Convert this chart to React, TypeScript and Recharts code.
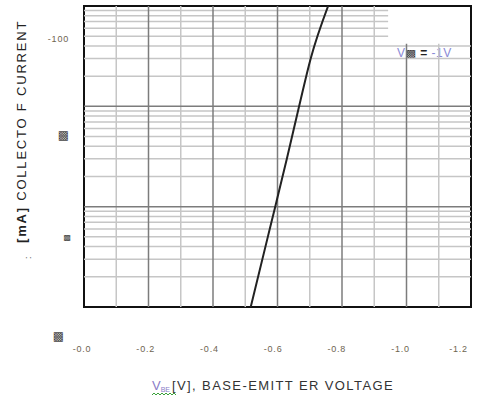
import { LineChart, Line, XAxis, YAxis, ReferenceLine, ReferenceArea, Customized } from "recharts"

// V_BE [V] vs I_C [mA]
const VBE = [-0.517, -0.57, -0.593, -0.629, -0.667, -0.703, -0.757]
const IC = [-0.1, -0.5, -1, -3, -10, -30, -100]

const X_TICKS = [0, -0.2, -0.4, -0.6, -0.8, -1.0, -1.2]
const X_TICK_LABELS = ["-0.0", "-0.2", "-0.4", "-0.6", "-0.8", "-1.0", "-1.2"]
const X_MINOR = [-0.1, -0.3, -0.5, -0.7, -0.9, -1.1]

const Y_TICKS = [0.1, 1, 10, 100]
const Y_TICK_LABELS = ["▩", "▩", "▩", "-100"]
const Y_MAJOR = [1, 10]
const Y_MINOR = [0.2, 0.3, 0.4, 0.5, 0.6, 0.7, 0.8, 0.9, 2, 3, 4, 5, 6, 7, 8, 9, 20, 30, 40, 50, 60, 70, 80, 90]

const data = VBE.map((v, i) => ({ vbe: v, ic: -IC[i] }))

const FONT = "'Liberation Sans', Arial, sans-serif"
const LIGHT = "#c6c6c6"
const DARK = "#7c7c7c"
// blank legend corner (top right)
const BOX_X = -0.943
const BOX_Y = 42

const XTick = (props: any) => {
  const i = X_TICKS.indexOf(props.payload.value)
  return (
    <text x={props.x - 2 - i * 0.8} y={352} textAnchor="middle" fontFamily={FONT} fontSize={9} letterSpacing={0.8} fill="#6e6450">
      {X_TICK_LABELS[i]}
    </text>
  )
}

const YTick = (props: any) => {
  const i = Y_TICKS.indexOf(props.payload.value)
  const size = i === 3 ? 9 : i === 1 ? 8 : 12
  return (
    <text x={props.x - (i === 0 ? 10 : i === 1 ? 3 : 5)} y={props.y + 33} textAnchor="end" fontFamily={i === 3 ? FONT : "'DejaVu Sans'"} fontSize={size} letterSpacing={i === 3 ? 0.8 : 0} fill={i === 3 ? "#6e6450" : "#444"}>
      {Y_TICK_LABELS[i]}
    </text>
  )
}

const Texts = () => (
  <g>
    <text transform="translate(26,243) rotate(-90)" fontFamily={FONT} fontSize={13} fill="#222" letterSpacing={1.8}>
      <tspan fontWeight="bold">[mA]</tspan>  COLLECTO  F CURRENT
    </text>
    <text transform="translate(31,259) rotate(-90)" fontFamily={FONT} fontSize={9} fill="#555">:</text>
    <text x={152} y={390} fontFamily={FONT} fontSize={13} fill="#8a7cc8">
      V<tspan fontSize={7} dy={2}>BE</tspan>
    </text>
    <text x={172} y={390} fontFamily={FONT} fontSize={13} fill="#333" letterSpacing={1.4}>
      [V], BASE-EMITT ER VOLTAGE
    </text>
    <polyline points="152,395 154,393 156,395 158,393 160,395 162,393 164,395 166,393 168,395 170,393 172,395 174,393 176,395" fill="none" stroke="#3aa13a" strokeWidth={1} />
    <text x={397} y={57} fontFamily={FONT} fontSize={12} fill="#8a8ad6" letterSpacing={0.5}>
      V<tspan fill="#333" fontFamily="'DejaVu Sans'" fontSize={11}>▩</tspan>
      <tspan fill="#222" fontWeight="bold"> = </tspan>-1V
    </text>
  </g>
)

export default function App() {
  return (
    <div style={{ position: "absolute", left: 0, top: 0, width: 478, height: 401, background: "#fff" }}>
      <LineChart width={478} height={401} data={data} margin={{ top: 6, right: 7, bottom: 0, left: 0 }}>
        <XAxis
          dataKey="vbe"
          type="number"
          domain={[-1.2, 0]}
          reversed
          ticks={X_TICKS}
          tick={<XTick />}
          tickLine={false}
          axisLine={false}
          height={94}
          allowDataOverflow
        />
        <YAxis
          dataKey="ic"
          type="number"
          scale="log"
          domain={[0.1, 100]}
          ticks={Y_TICKS}
          tick={<YTick />}
          tickLine={false}
          axisLine={false}
          tickSize={0}
          tickMargin={10}
          width={84}
          allowDataOverflow
        />
        {Y_MINOR.map((v) => (
          <ReferenceLine
            key={"ym" + v}
            stroke={LIGHT}
            strokeWidth={1.5}
            segment={[{ x: 0, y: v }, { x: v > BOX_Y ? BOX_X : -1.2, y: v }]}
          />
        ))}
        {X_MINOR.map((v) => (
          <ReferenceLine
            key={"xm" + v}
            stroke={LIGHT}
            strokeWidth={1.5}
            segment={[{ x: v, y: 0.1 }, { x: v, y: v < BOX_X ? BOX_Y : 100 }]}
          />
        ))}
        {Y_MAJOR.map((v) => (
          <ReferenceLine key={"yM" + v} y={v} stroke={DARK} strokeWidth={1.5} />
        ))}
        {X_TICKS.slice(1, -1).map((v) => (
          <ReferenceLine
            key={"xM" + v}
            stroke={DARK}
            strokeWidth={1.5}
            segment={[{ x: v, y: 0.1 }, { x: v, y: v < BOX_X ? BOX_Y : 100 }]}
          />
        ))}
        <ReferenceArea x1={0} x2={-1.2} y1={0.1} y2={100} fill="none" stroke="#111" strokeWidth={2} />
        <Line dataKey="ic" type="monotone" stroke="#222" strokeWidth={2} dot={false} isAnimationActive={false} />
        <Customized component={Texts} />
      </LineChart>
    </div>
  )
}
